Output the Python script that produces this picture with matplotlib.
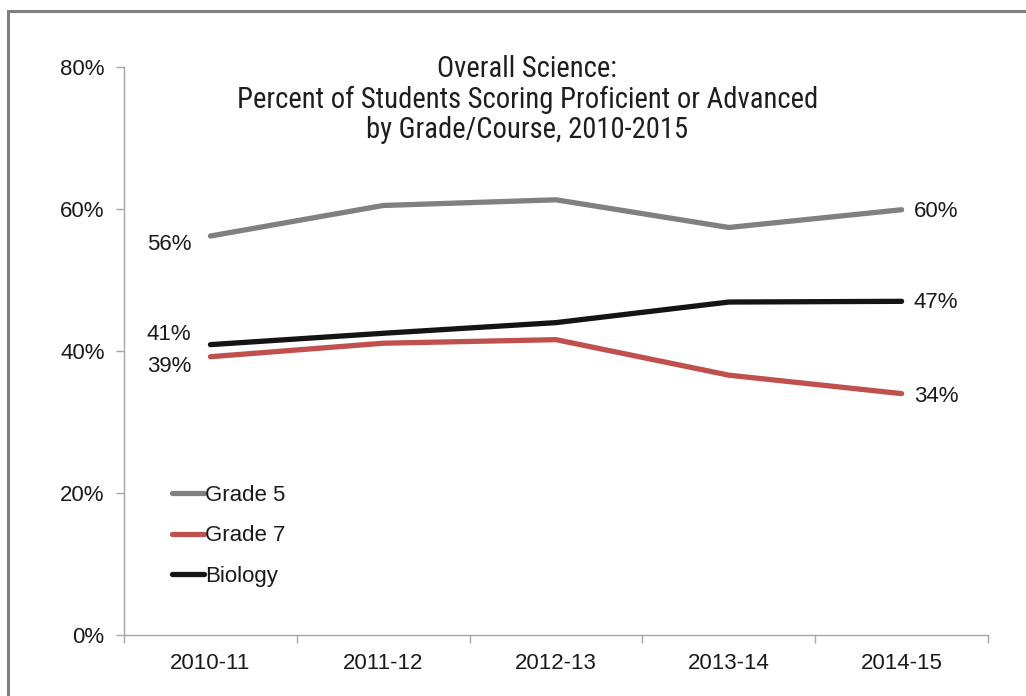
import matplotlib.pyplot as plt
from matplotlib.patches import Rectangle
from matplotlib.ticker import FuncFormatter, FixedLocator

years = ['2010-11', '2011-12', '2012-13', '2013-14', '2014-15']
grade5 = [56.2, 60.5, 61.3, 57.4, 59.9]
grade7 = [39.2, 41.1, 41.6, 36.6, 34.0]
biology = [40.9, 42.5, 44.0, 46.9, 47.0]

colors = {'Grade 5': '#808080', 'Grade 7': '#c0504d', 'Biology': '#141414'}

plt.rcParams['font.family'] = ['Liberation Sans', 'DejaVu Sans']

fig = plt.figure(figsize=(10.26, 6.96), dpi=100)
ax = fig.add_axes([0.1209, 0.0876, 0.8421, 0.8161])

x = range(len(years))
for name, vals in (('Grade 5', grade5), ('Grade 7', grade7), ('Biology', biology)):
    ax.plot(x, vals, color=colors[name], lw=3.8, solid_capstyle='round',
            solid_joinstyle='round', label=name)

ax.set_xlim(-0.5, 4.5)
ax.set_ylim(0, 80)
ax.set_yticks([0, 20, 40, 60, 80])
ax.yaxis.set_major_formatter(FuncFormatter(lambda v, p: '%d%%' % v))
ax.set_xticks(list(x))
ax.set_xticklabels(years)
ax.xaxis.set_minor_locator(FixedLocator([i - 0.5 for i in range(6)]))
ax.tick_params(axis='x', which='major', length=0, pad=13, labelsize=16, labelcolor='#1a1a1a')
ax.tick_params(axis='x', which='minor', length=6, width=1, color='#a6a6a6', direction='out')
ax.tick_params(axis='y', length=6, width=1, color='#a6a6a6', pad=8, labelsize=16, labelcolor='#1a1a1a')

for s in ('top', 'right'):
    ax.spines[s].set_visible(False)
for s in ('left', 'bottom'):
    ax.spines[s].set_color('#a6a6a6')
    ax.spines[s].set_linewidth(1)

# data labels at first and last points
lab = dict(textcoords='offset pixels', fontsize=16, color='#1a1a1a', va='center')
ax.annotate('%d%%' % round(grade5[0]), (0, grade5[0]), xytext=(-19, -8), ha='right', **lab)
ax.annotate('%d%%' % round(biology[0]), (0, biology[0]), xytext=(-19, 10), ha='right', **lab)
ax.annotate('%d%%' % round(grade7[0]), (0, grade7[0]), xytext=(-19, -10), ha='right', **lab)
ax.annotate('%d%%' % round(grade5[-1]), (4, grade5[-1]), xytext=(12, -2), ha='left', **lab)
ax.annotate('%d%%' % round(biology[-1]), (4, biology[-1]), xytext=(12, -1), ha='left', **lab)
ax.annotate('%d%%' % round(grade7[-1]), (4, grade7[-1]), xytext=(12, -3), ha='left', **lab)

leg = ax.legend(loc='lower left', bbox_to_anchor=(0.056, 0.085), frameon=False,
                fontsize=16, handlelength=1.4, handletextpad=0.05, labelspacing=0.87,
                borderpad=0, borderaxespad=0)
for t in leg.get_texts():
    t.set_color('#1a1a1a')

fig.text(0.514, 0.921, 'Overall Science:\nPercent of Students Scoring Proficient or Advanced\nby Grade/Course, 2010-2015',
         ha='center', va='top', linespacing=1.12, color='#1e1e1e', fontsize=20.6,
         family=['Roboto Condensed', 'Liberation Sans'], weight=400)

top = 1 - 11 / 696
fig.patches.append(Rectangle((8 / 1026, -0.2), 1.2, top + 0.2, transform=fig.transFigure,
                             fill=False, edgecolor='#808080', lw=2.2, clip_on=False))

fig.savefig('out.png', dpi=100)
